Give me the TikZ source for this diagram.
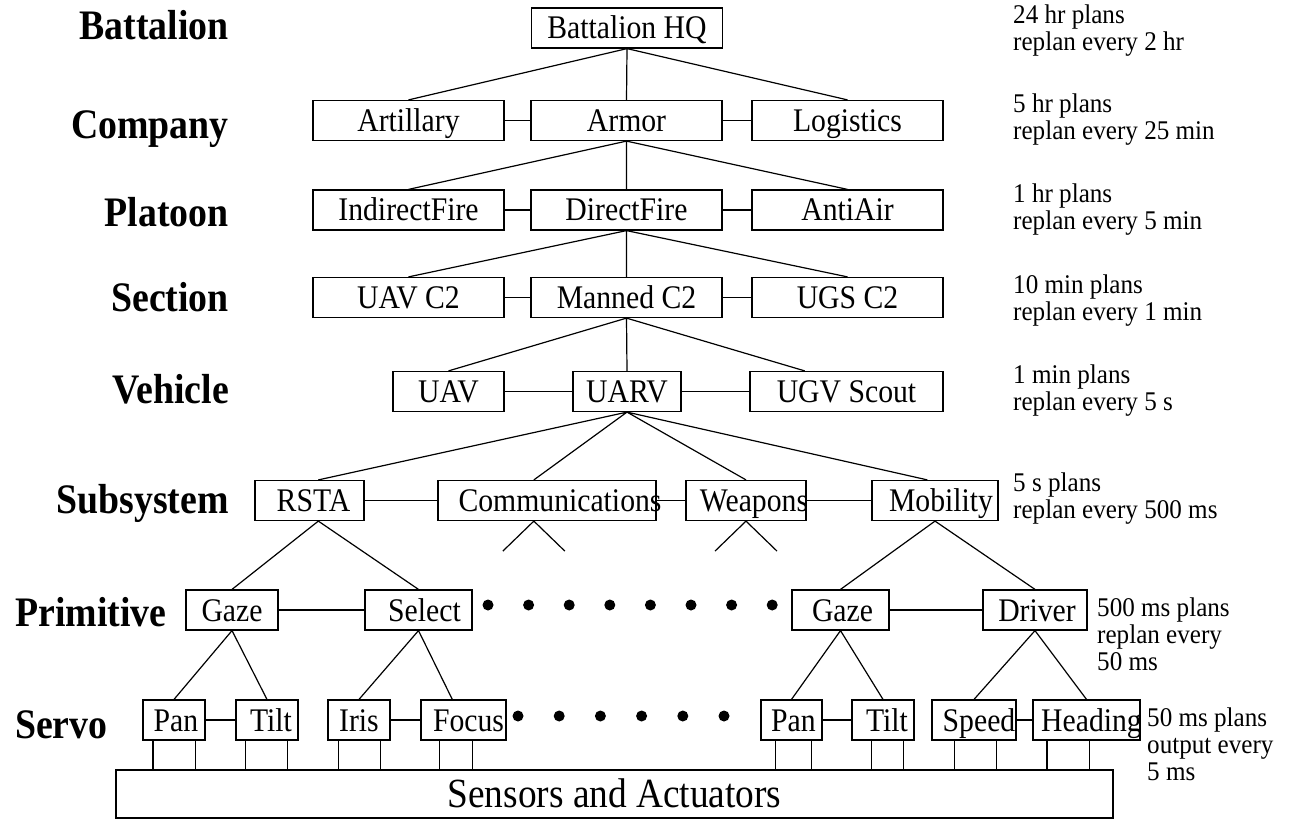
\documentclass[tikz,border=0pt]{standalone}
\usepackage{fontspec}
\setmainfont{Liberation Serif}
\newfontfamily\cfont[FakeStretch=0.9]{Liberation Serif}
\newfontfamily\nfont[FakeStretch=0.93]{Liberation Serif}
\usetikzlibrary{calc}
\begin{document}
\begin{tikzpicture}[x=1pt,y=-1pt,
  box/.style={draw,line width=1.2pt,inner sep=0pt,minimum height=40pt,fill=white},
  bt/.style={font=\cfont\fontsize{33}{38}\selectfont,inner sep=0pt,text height=24pt,text depth=2pt},
  lvl/.style={font=\cfont\bfseries\fontsize{42}{48}\selectfont,inner sep=0pt},
  note/.style={font=\nfont\fontsize{27}{27}\selectfont,align=left,inner sep=0pt,anchor=west},
  ln/.style={line width=1.2pt}]
\useasboundingbox (0,0) rectangle (1293,821);

% level labels
\node[lvl,anchor=base east] (l1) at (229,40) {Battalion};
\node[lvl,anchor=base east] (l2) at (229,139) {Company};
\node[lvl,anchor=base east] (l3) at (229,226) {Platoon};
\node[lvl,anchor=base east] (l4) at (229,311) {Section};
\node[lvl,anchor=base east] (l5) at (229,403) {Vehicle};
\node[lvl,anchor=base east] (l6) at (229,513) {Subsystem};
\node[lvl,anchor=base west] (l7) at (15,626) {Primitive};
\node[lvl,anchor=base west] (l8) at (15,738) {Servo};

% notes
\node[note] (n1) at (1013,31) {24 hr plans\\replan every 2 hr};
\node[note] (n2) at (1013,120) {5 hr plans\\replan every 25 min};
\node[note] (n3) at (1013,210) {1 hr plans\\replan every 5 min};
\node[note] (n4) at (1013,301) {10 min plans\\replan every 1 min};
\node[note] (n5) at (1013,391) {1 min plans\\replan every 5 s};
\node[note] (n6) at (1013,499) {5 s plans\\replan every 500 ms};
\node[note] (n7) at (1097,634) {500 ms plans\\replan every\\50 ms};
\node[note] (n8) at (1147,744) {50 ms plans\\output every\\5 ms};

% boxes
\node[box,minimum width=191.5pt,label={[bt]center:Battalion HQ}] (hq) at (627,28) {};

\node[box,minimum width=191pt,label={[bt]center:Artillary}] (art) at (408.5,120.5) {};
\node[box,minimum width=191pt,label={[bt]center:Armor}] (arm) at (626.5,120.5) {};
\node[box,minimum width=191pt,label={[bt]center:Logistics}] (log) at (847.5,120.5) {};

\node[box,minimum width=191pt,label={[bt]center:IndirectFire}] (ind) at (408.5,210) {};
\node[box,minimum width=191pt,label={[bt]center:DirectFire}] (dir) at (626.5,210) {};
\node[box,minimum width=191pt,label={[bt]center:AntiAir}] (aa) at (847.5,210) {};

\node[box,minimum width=191pt,label={[bt]center:UAV C2}] (uavc) at (408.5,297.5) {};
\node[box,minimum width=191pt,label={[bt]center:Manned C2}] (man) at (626.5,297.5) {};
\node[box,minimum width=191pt,label={[bt]center:UGS C2}] (ugs) at (847.5,297.5) {};

\node[box,minimum width=111pt,label={[bt]center:UAV}] (uav) at (448.5,391.5) {};
\node[box,minimum width=108pt,label={[bt]center:UARV}] (uarv) at (627,391.5) {};
\node[box,minimum width=193pt,label={[bt]center:UGV Scout}] (ugv) at (846.5,391.5) {};

\node[box,minimum width=109pt,label={[bt,xshift=4pt]center:RSTA}] (rsta) at (309.5,500.5) {};
\node[box,minimum width=218pt,label={[bt,xshift=13pt]center:Communications}] (comm) at (547,500.5) {};
\node[box,minimum width=120pt,label={[bt,xshift=8pt]center:Weapons}] (weap) at (746,500.5) {};
\node[box,minimum width=126pt,label={[bt,xshift=6pt]center:Mobility}] (mob) at (935,500.5) {};

\node[box,minimum width=92pt,label={[bt]center:Gaze}] (gz1) at (232,610) {};
\node[box,minimum width=107pt,label={[bt,xshift=6pt]center:Select}] (sel) at (418.5,610) {};
\node[box,minimum width=97pt,label={[bt,xshift=2pt]center:Gaze}] (gz2) at (840.5,610) {};
\node[box,minimum width=104pt,label={[bt,xshift=2pt]center:Driver}] (drv) at (1035,610) {};

\node[box,minimum width=62pt,label={[bt,xshift=2pt]center:Pan}] (pan1) at (174,720) {};
\node[box,minimum width=62pt,label={[bt,xshift=4pt]center:Tilt}] (tilt1) at (267,720) {};
\node[box,minimum width=62pt,label={[bt]center:Iris}] (iris) at (359,720) {};
\node[box,minimum width=85pt,label={[bt,xshift=5pt]center:Focus}] (foc) at (463.5,720) {};
\node[box,minimum width=61pt,label={[bt,xshift=2pt]center:Pan}] (pan2) at (791.5,720) {};
\node[box,minimum width=62pt,label={[bt,xshift=4pt]center:Tilt}] (tilt2) at (883,720) {};
\node[box,minimum width=84pt,label={[bt,xshift=5pt]center:Speed}] (spd) at (974,720) {};
\node[box,minimum width=107pt,label={[bt,xshift=5pt]center:Heading}] (hdg) at (1086.5,720) {};

\node[box,minimum width=997pt,minimum height=48pt,label={[font=\cfont\fontsize{41.5}{46}\selectfont,inner sep=0pt,text height=29pt,text depth=2pt]center:Sensors and Actuators}] (sens) at (614.5,794) {};

% tree connectors
\draw[ln] (hq.south) -- (art.north) (hq.south) -- (arm.north) (hq.south) -- (log.north);
\draw[ln] (arm.south) -- (ind.north) (arm.south) -- (dir.north) (arm.south) -- (aa.north);
\draw[ln] (dir.south) -- (uavc.north) (dir.south) -- (man.north) (dir.south) -- (ugs.north);
\draw[ln] (man.south) -- (uav.north) (man.south) -- (uarv.north)
  (man.south) -- ($(ugv.north west)!0.285!(ugv.north east)$);
\draw[ln] (uarv.south) -- ($(rsta.north west)!0.58!(rsta.north east)$)
  (uarv.south) -- ($(comm.north west)!0.44!(comm.north east)$)
  (uarv.south) -- (weap.north)
  (uarv.south) -- ($(mob.north west)!0.44!(mob.north east)$);
\draw[ln] ($(rsta.south west)!0.58!(rsta.south east)$) coordinate (rs) -- (gz1.north) (rs) -- (sel.north);
\draw[ln] (mob.south) -- (gz2.north) (mob.south) -- (drv.north);
\draw[ln] ($(comm.south west)!0.44!(comm.south east)$) coordinate (cs) -- ++(-31,30) coordinate (cs1)
  (cs) -- ++(31,30) coordinate (cs2);
\draw[ln] (weap.south) -- ++(-31,30) coordinate (ws1) (weap.south) -- ++(31,30) coordinate (ws2);
\draw[ln] (gz1.south) -- (pan1.north) (gz1.south) -- (tilt1.north);
\draw[ln] (sel.south) -- (iris.north) (sel.south) -- ($(foc.north west)!0.37!(foc.north east)$);
\draw[ln] (gz2.south) -- (pan2.north) (gz2.south) -- (tilt2.north);
\draw[ln] (drv.south) -- (spd.north) (drv.south) -- (hdg.north);

% sibling connectors
\draw[ln] (art) -- (arm) (arm) -- (log);
\draw[ln] (ind) -- (dir) (dir) -- (aa);
\draw[ln] (uavc) -- (man) (man) -- (ugs);
\draw[ln] (uav) -- (uarv) (uarv) -- (ugv);
\draw[ln] (rsta) -- (comm) (comm) -- (weap) (weap) -- (mob);
\draw[ln] (gz1) -- (sel) (gz2) -- (drv);
\draw[ln] (pan1) -- (tilt1) (iris) -- (foc) (pan2) -- (tilt2) (spd) -- (hdg);

% legs to sensors
\foreach \n/\a/\b in {pan1/10.5/10,tilt1/10/11,iris/11/10,foc/19/34,pan2/15/11,tilt2/20/11,spd/23/20,hdg/14.5/51}{
  \draw[ln] ([xshift=\a pt]\n.south west) coordinate (la) -- (la |- sens.north);
  \draw[ln] ([xshift=-\b pt]\n.south east) coordinate (lb) -- (lb |- sens.north);
}

% ellipsis dots
\foreach \i in {0,...,7}{\fill ({488+\i*40.6},605) circle[radius=5.5pt];}
\foreach \i in {0,...,5}{\fill ({518+\i*41.2},716) circle[radius=5.5pt];}
\end{tikzpicture}
\end{document}
